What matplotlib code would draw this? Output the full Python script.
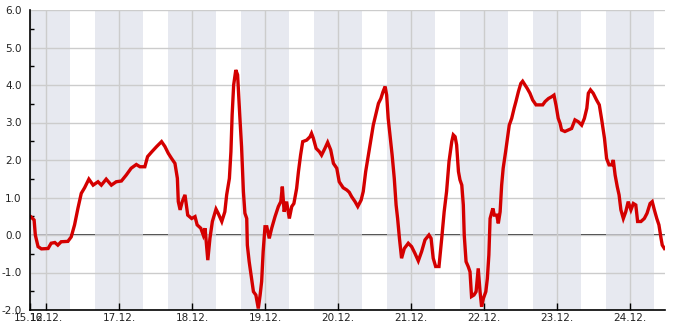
from datetime import datetime, timedelta
import matplotlib
matplotlib.use('Agg')
import matplotlib.pyplot as plt
import matplotlib.dates as mdates

# hours since 15.12. 00:00 and measured value
hours = [18.8, 19.0, 20.1, 20.5, 21.4, 22.5, 24.7, 25.7, 26.9, 27.9, 29.0, 31.2, 32.3, 33.4, 34.5,
         35.6, 36.7, 38.1, 39.5, 41.1, 42.2, 43.8, 45.5, 47.1, 48.8, 50.4, 52.0, 53.7, 54.9, 56.5,
         57.4, 58.8, 60.4, 62.0, 63.1, 64.2, 65.3, 66.4, 67.2, 67.5, 68.1, 68.8, 69.7, 70.6, 71.9,
         73.0, 73.7, 74.9, 75.7, 76.3, 77.2, 77.9, 78.7, 79.9, 80.6, 81.8, 82.8, 83.4, 84.3, 84.8,
         85.2, 85.7, 86.4, 87.0, 87.7, 88.3, 88.9, 89.4, 90.0, 90.2, 90.8, 91.6, 92.2, 93.0, 93.8,
         94.4, 94.9, 95.4, 96.0, 96.6, 97.4, 98.2, 99.3, 100.4, 101.2, 101.7, 102.3, 103.1, 104.0,
         104.8, 105.5, 106.4, 107.0, 107.7, 108.4, 109.7, 110.8, 111.3, 111.9, 112.8, 113.9, 114.6,
         115.7, 116.6, 117.6, 118.5, 119.6, 120.4, 121.7, 122.9, 123.7, 124.5, 125.6, 126.5, 127.6,
         128.3, 129.1, 130.0, 130.9, 131.6, 132.4, 133.3, 134.1, 134.8, 135.5, 136.0, 136.5, 137.1,
         137.8, 138.5, 139.1, 139.6, 140.2, 140.9, 141.8, 143.1, 144.2, 145.3, 146.4, 147.5, 148.6,
         149.9, 150.6, 151.3, 152.1, 153.2, 154.1, 154.9, 155.7, 156.5, 157.4, 157.9, 158.5, 159.0,
         159.6, 160.1, 160.7, 161.2, 161.5, 162.1, 162.8, 163.4, 163.9, 164.7, 165.4, 166.1, 166.7,
         167.2, 167.8, 168.6, 169.1, 169.6, 170.0, 170.9, 171.4, 172.2, 172.7, 173.3, 173.8, 174.3,
         175.1, 175.7, 176.3, 177.1, 177.9, 178.5, 179.3, 180.1, 180.7, 181.5, 182.2, 183.1, 184.0,
         185.1, 186.2, 187.3, 188.1, 189.2, 190.3, 191.0, 191.7, 192.4, 193.0, 193.5, 194.6, 195.7,
         196.8, 197.9, 199.0, 200.1, 201.0, 201.8, 202.3, 203.0, 203.9, 205.0, 205.9, 206.7, 207.6,
         208.3, 209.1, 210.0, 210.5, 211.1, 211.8, 212.4, 213.0, 213.8, 214.6, 215.4, 216.3, 217.1,
         217.9, 218.5, 219.6, 220.7, 221.6, 222.6, 223.3, 224.0, 224.8, 225.5, 226.2, 226.6, 227.3]
values = [0.50, 0.49, 0.40, 0.00, -0.31, -0.37, -0.36, -0.22, -0.20, -0.27, -0.18, -0.17, -0.05, 0.27, 0.71,
          1.11, 1.26, 1.49, 1.33, 1.42, 1.33, 1.49, 1.33, 1.42, 1.44, 1.60, 1.78, 1.88, 1.82, 1.82,
          2.09, 2.22, 2.36, 2.49, 2.36, 2.18, 2.04, 1.91, 1.51, 0.89, 0.67, 0.89, 1.07, 0.53, 0.44,
          0.49, 0.27, 0.18, 0.00, 0.18, -0.67, -0.09, 0.36, 0.69, 0.58, 0.36, 0.62, 1.07, 1.51, 2.22,
          3.20, 4.00, 4.40, 4.27, 3.20, 2.35, 1.16, 0.58, 0.44, -0.27, -0.71, -1.16, -1.51, -1.60, -1.96,
          -1.60, -1.24, -0.44, 0.22, 0.22, -0.09, 0.18, 0.49, 0.76, 0.89, 1.29, 0.62, 0.89, 0.44,
          0.76, 0.84, 1.24, 1.69, 2.13, 2.49, 2.53, 2.62, 2.71, 2.58, 2.31, 2.22, 2.13,
          2.31, 2.47, 2.27, 1.91, 1.78, 1.42, 1.26, 1.20, 1.14, 1.02, 0.89, 0.76, 0.93,
          1.16, 1.69, 2.13, 2.58, 2.93, 3.20, 3.51, 3.64, 3.82, 3.96, 3.73, 3.11, 2.67,
          2.13, 1.51, 0.80, 0.44, -0.09, -0.62, -0.36, -0.22, -0.31, -0.49, -0.69, -0.44, -0.13,
          0.00, -0.09, -0.62, -0.84, -0.84, -0.09, 0.62, 1.16, 1.96, 2.49, 2.67, 2.62, 2.40,
          1.69, 1.47, 1.33, 0.80, 0.00, -0.71, -0.84, -0.98, -1.64, -1.60, -1.51, -0.89, -1.51,
          -1.91, -1.69, -1.51, -1.16, -0.53, 0.44, 0.71, 0.53, 0.53, 0.31, 0.62, 1.33, 1.78,
          2.22, 2.58, 2.93, 3.11, 3.38, 3.56, 3.82, 4.04, 4.10, 4.00, 3.91, 3.78, 3.60,
          3.47, 3.47, 3.47, 3.56, 3.64, 3.69, 3.73, 3.45, 3.11, 2.98, 2.80, 2.76, 2.80,
          2.84, 3.07, 3.02, 2.93, 3.11, 3.38, 3.78, 3.87, 3.78, 3.60, 3.47, 3.07, 2.58,
          2.04, 1.87, 1.87, 2.00, 1.60, 1.29, 1.07, 0.67, 0.44, 0.62, 0.89, 0.67, 0.84,
          0.80, 0.36, 0.36, 0.44, 0.58, 0.84, 0.89, 0.67, 0.44, 0.27, -0.09, -0.27, -0.36]

base = datetime(2012, 12, 15)
t_start = base + timedelta(hours=18.75)
t_end = base + timedelta(hours=227.5)
times = [base + timedelta(hours=h) for h in hours]

fig = plt.figure(figsize=(6.85, 3.30), dpi=100)
ax = fig.add_axes([30 / 685, 20 / 330, 635 / 685, 300 / 330])

# night bands 16:00 - 08:00
for d in range(0, 9):
    day = base + timedelta(days=d)
    ax.axvspan(day + timedelta(hours=16), day + timedelta(hours=32),
               color=(222 / 255, 224 / 255, 234 / 255), alpha=0.7, lw=0, zorder=1)

ax.axhline(0, color='black', lw=1.1, zorder=0.9)
ax.plot(times, values, color='#d40000', lw=2.4, zorder=3, solid_joinstyle='miter')

ax.set_xlim(t_start, t_end)
ax.set_ylim(-2, 6)

day_ticks = [base + timedelta(days=d) for d in range(1, 10)]
ax.set_xticks([t_start] + day_ticks)
ax.set_xticklabels(['15.12.'] + [t.strftime('%d.%m.') for t in day_ticks])
ax.set_yticks(range(-2, 7))
ax.set_yticklabels([f'{v:.1f}' for v in range(-2, 7)])
ax.set_yticks([v + 0.5 for v in range(-2, 6)], minor=True)

ax.set_axisbelow(False)
ax.grid(True, which='major', color='#cccccc', lw=1)
for line in ax.get_xgridlines() + ax.get_ygridlines():
    line.set_zorder(1.5)

ax.tick_params(axis='both', which='both', direction='in', labelsize=7.5, colors='black',
               labelcolor='#222222')
ax.tick_params(axis='y', which='major', length=0, pad=6)
ax.tick_params(axis='y', which='minor', length=3, width=1)
ax.tick_params(axis='x', which='major', length=5, width=1, pad=2)

for s in ['top', 'right']:
    ax.spines[s].set_visible(False)
for s in ['left', 'bottom']:
    ax.spines[s].set_linewidth(1.2)
    ax.spines[s].set_zorder(4)

fig.savefig('out.png', dpi=100)
